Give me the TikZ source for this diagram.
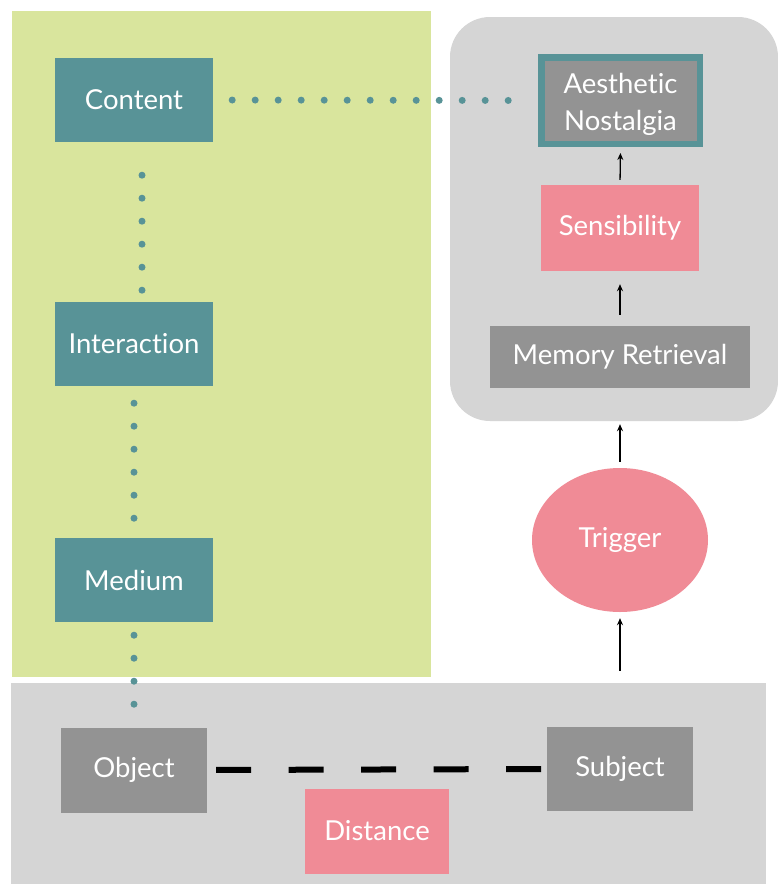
\documentclass[tikz,border=0pt]{standalone}
\usepackage{fontspec}
\setmainfont{Lato}[Ligatures=NoCommon]
\usetikzlibrary{arrows.meta,shapes.geometric}

\definecolor{tealbox}{HTML}{589397}
\definecolor{greenbg}{HTML}{D9E59D}
\definecolor{graybg}{HTML}{D5D5D5}
\definecolor{graybox}{HTML}{939393}
\definecolor{pinkbox}{HTML}{F08B96}

\tikzset{
  boxfont/.style={font=\fontsize{27.5}{37}\selectfont},
  box/.style={rectangle, inner sep=0pt, text=white, boxfont, align=center},
  tealnode/.style={box, fill=tealbox, minimum width=158, minimum height=84},
  graynode/.style={box, fill=graybox},
  pinknode/.style={box, fill=pinkbox},
  dotline/.style={draw=tealbox, line width=7, line cap=round,
    dash pattern=on 0pt off 23pt},
  flow/.style={draw=black, line width=1.3,
    -{Stealth[length=7pt,width=6pt]}},
  distline/.style={draw=black, line width=6, line cap=butt,
    dash pattern=on 35pt off 37.5pt}
}

\begin{document}
\begin{tikzpicture}[x=1pt,y=-1pt]
  \useasboundingbox (0,0) rectangle (778,884);
  \fill[white] (0,0) rectangle (778,884);

  % background panels
  \fill[greenbg] (12,11) rectangle (431,677);
  \fill[graybg, rounded corners=40] (450,17) rectangle (778,421);
  \fill[graybg] (11,683) rectangle (766,884);

  % left column
  \node[tealnode] (content) at (134,100) {Content};
  \node[tealnode] (interaction) at (134,344) {Interaction};
  \node[tealnode] (medium) at (134,580) {Medium};

  % right column
  \node[graynode, draw=tealbox, line width=6.5,
        minimum width=158.5, minimum height=86.5,
        label={[box, yshift=-4pt]center:Aesthetic\\Nostalgia}]
        (aesthetic) at (620.5,100.5) {};
  \node[pinknode, minimum width=158, minimum height=86] (sensibility) at (620,228) {Sensibility};
  \node[graynode, minimum width=260, minimum height=62] (memory) at (620,357) {Memory Retrieval};
  \node[ellipse, fill=pinkbox, text=white, inner sep=0pt,
        minimum width=176, minimum height=144, boxfont] (trigger) at (620,540) {Trigger};

  % bottom row
  \node[graynode, minimum width=146, minimum height=85] (object) at (134,770) {Object};
  \node[graynode, minimum width=146, minimum height=84] (subject) at (620,769) {Subject};
  \node[pinknode, minimum width=144, minimum height=85] (distance) at (377,831) {Distance};

  % dotted links
  \draw[dotline, shorten <=19pt, shorten >=29pt] (content.east) -- (aesthetic.west);
  \draw[dotline, shorten <=33pt, shorten >=11pt]
    ([xshift=8pt]content.south) -- ([xshift=8pt]interaction.north);
  \draw[dotline, shorten <=17pt, shorten >=19pt] (interaction.south) -- (medium.north);
  \draw[dotline, shorten <=13pt, shorten >=22pt] (medium.south) -- (object.north);

  % arrows
  \draw[flow, shorten <=5pt, shorten >=6pt] (sensibility.north) -- (aesthetic.south);
  \draw[flow, shorten <=11pt, shorten >=13pt] (memory.north) -- (sensibility.south);
  \draw[flow, shorten <=6pt, shorten >=36pt] (trigger.north) -- (memory.south);
  \draw[flow, shorten <=56pt, shorten >=6pt] (subject.north) -- (trigger.south);

  % distance line
  \draw[distline, shorten <=9pt, shorten >=5pt] (object.east) -- (subject.west);
\end{tikzpicture}
\end{document}
